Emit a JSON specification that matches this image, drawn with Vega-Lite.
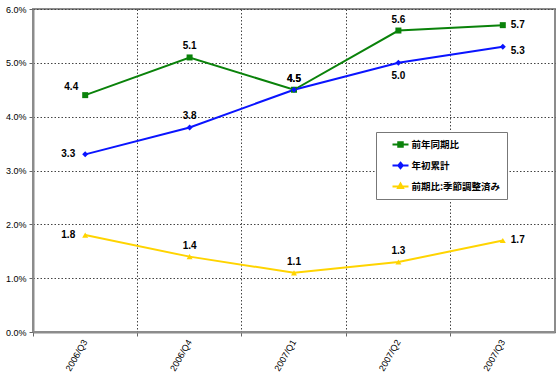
{
  "$schema": "https://vega.github.io/schema/vega-lite/v6.json",
  "width": 522,
  "height": 323,
  "padding": {"left": 5, "top": 5, "right": 3, "bottom": 0},
  "background": "white",
  "config": {
    "view": {"stroke": "#8c8c8c", "strokeWidth": 2},
    "font": "Liberation Sans"
  },
  "data": {
    "values": [
      {"q": "2006/Q3", "s": "前年同期比", "v": 4.4},
      {"q": "2006/Q4", "s": "前年同期比", "v": 5.1},
      {"q": "2007/Q1", "s": "前年同期比", "v": 4.5},
      {"q": "2007/Q2", "s": "前年同期比", "v": 5.6},
      {"q": "2007/Q3", "s": "前年同期比", "v": 5.7},
      {"q": "2006/Q3", "s": "年初累計", "v": 3.3},
      {"q": "2006/Q4", "s": "年初累計", "v": 3.8},
      {"q": "2007/Q1", "s": "年初累計", "v": 4.5},
      {"q": "2007/Q2", "s": "年初累計", "v": 5.0},
      {"q": "2007/Q3", "s": "年初累計", "v": 5.3},
      {"q": "2006/Q3", "s": "前期比:季節調整済み", "v": 1.8},
      {"q": "2006/Q4", "s": "前期比:季節調整済み", "v": 1.4},
      {"q": "2007/Q1", "s": "前期比:季節調整済み", "v": 1.1},
      {"q": "2007/Q2", "s": "前期比:季節調整済み", "v": 1.3},
      {"q": "2007/Q3", "s": "前期比:季節調整済み", "v": 1.7}
    ]
  },
  "encoding": {
    "x": {
      "field": "q", "type": "ordinal", "title": null,
      "scale": {"type": "band", "paddingInner": 0, "paddingOuter": 0},
      "axis": {
        "bandPosition": 0, "labelAngle": -60, "labelAlign": "right", "labelBaseline": "middle",
        "labelFontSize": 9, "labelColor": "#000", "labelPadding": 4,
        "grid": true, "gridDash": [1.5, 2], "gridColor": "#444", "gridWidth": 1,
        "domainColor": "#8c8c8c", "domainWidth": 2, "tickColor": "#666", "tickSize": 4
      }
    },
    "y": {
      "field": "v", "type": "quantitative", "title": null,
      "scale": {"domain": [0, 6], "nice": false},
      "axis": {
        "values": [0, 1, 2, 3, 4, 5, 6],
        "labelExpr": "format(datum.value, '.1f') + '%'",
        "labelFontSize": 9, "labelColor": "#000", "labelPadding": 3,
        "grid": true, "gridDash": [1.5, 2], "gridColor": "#444", "gridWidth": 1,
        "domainColor": "#8c8c8c", "domainWidth": 2, "tickColor": "#666", "tickSize": 4
      }
    },
    "color": {
      "field": "s", "type": "nominal", "title": null,
      "scale": {
        "domain": ["前年同期比", "年初累計", "前期比:季節調整済み"],
        "range": ["#0a820a", "#0a14ff", "#ffd400"]
      },
      "legend": {
        "orient": "none", "legendX": 343, "legendY": 123,
        "direction": "vertical",
        "strokeColor": "#777", "fillColor": "white",
        "padding": 6.5,
        "labelFont": "Noto Sans CJK JP", "labelFontSize": 9.5, "labelFontWeight": "bold", "labelColor": "#000",
        "labelExpr": "datum.label + '\u3000\u2002'",
        "rowPadding": 7, "symbolSize": 100, "symbolStrokeWidth": 2, "symbolOffset": 12, "labelOffset": 5,
        "encode": {
          "symbols": {
            "update": {
              "fill": {"scale": "color", "field": "value"},
              "stroke": {"scale": "color", "field": "value"},
              "shape": {"signal": "datum.value == '前年同期比' ? 'M-1.6,0H1.6M-0.45,-0.45H0.45V0.45H-0.45Z' : datum.value == '年初累計' ? 'M-1.6,0H1.6M0,-0.55L0.45,0L0,0.55L-0.45,0Z' : 'M-1.6,0H1.6M0,-0.6L0.5,0.3H-0.5Z'"}
            }
          }
        }
      }
    }
  },
  "layer": [
    {"mark": {"type": "line", "strokeWidth": 2}},
    {
      "transform": [{"filter": "datum.s == '前年同期比'"}],
      "mark": {"type": "point", "filled": true, "opacity": 1, "size": 36, "shape": "square"}
    },
    {
      "transform": [{"filter": "datum.s == '年初累計'"}],
      "mark": {"type": "point", "filled": true, "opacity": 1, "size": 36, "shape": "diamond"}
    },
    {
      "transform": [{"filter": "datum.s == '前期比:季節調整済み'"}],
      "mark": {"type": "point", "filled": true, "opacity": 1, "size": 36, "shape": "triangle-up"}
    },
    {
      "transform": [{"filter": "datum.q == '2006/Q3' && datum.s != '前年同期比'"}],
      "mark": {"type": "text", "align": "right", "baseline": "middle", "dx": -10, "fontWeight": "bold", "fontSize": 10},
      "encoding": {"text": {"field": "v", "type": "quantitative", "format": ".1f"}, "color": {"value": "#000"}}
    },
    {
      "transform": [{"filter": "datum.q == '2006/Q3' && datum.s == '前年同期比'"}],
      "mark": {"type": "text", "align": "right", "baseline": "middle", "dx": -7, "dy": -8, "fontWeight": "bold", "fontSize": 10},
      "encoding": {"text": {"field": "v", "type": "quantitative", "format": ".1f"}, "color": {"value": "#000"}}
    },
    {
      "transform": [{"filter": "datum.q != '2006/Q3' && datum.q != '2007/Q3' && !(datum.q == '2007/Q2' && datum.s == '年初累計')"}],
      "mark": {"type": "text", "align": "center", "baseline": "bottom", "dy": -6, "fontWeight": "bold", "fontSize": 10},
      "encoding": {"text": {"field": "v", "type": "quantitative", "format": ".1f"}, "color": {"value": "#000"}}
    },
    {
      "transform": [{"filter": "datum.q == '2007/Q2' && datum.s == '年初累計'"}],
      "mark": {"type": "text", "align": "center", "baseline": "top", "dy": 8, "fontWeight": "bold", "fontSize": 10},
      "encoding": {"text": {"field": "v", "type": "quantitative", "format": ".1f"}, "color": {"value": "#000"}}
    },
    {
      "transform": [{"filter": "datum.q == '2007/Q3' && datum.s != '年初累計'"}],
      "mark": {"type": "text", "align": "left", "baseline": "middle", "dx": 8, "fontWeight": "bold", "fontSize": 10},
      "encoding": {"text": {"field": "v", "type": "quantitative", "format": ".1f"}, "color": {"value": "#000"}}
    },
    {
      "transform": [{"filter": "datum.q == '2007/Q3' && datum.s == '年初累計'"}],
      "mark": {"type": "text", "align": "left", "baseline": "middle", "dx": 8, "dy": 4, "fontWeight": "bold", "fontSize": 10},
      "encoding": {"text": {"field": "v", "type": "quantitative", "format": ".1f"}, "color": {"value": "#000"}}
    }
  ]
}
